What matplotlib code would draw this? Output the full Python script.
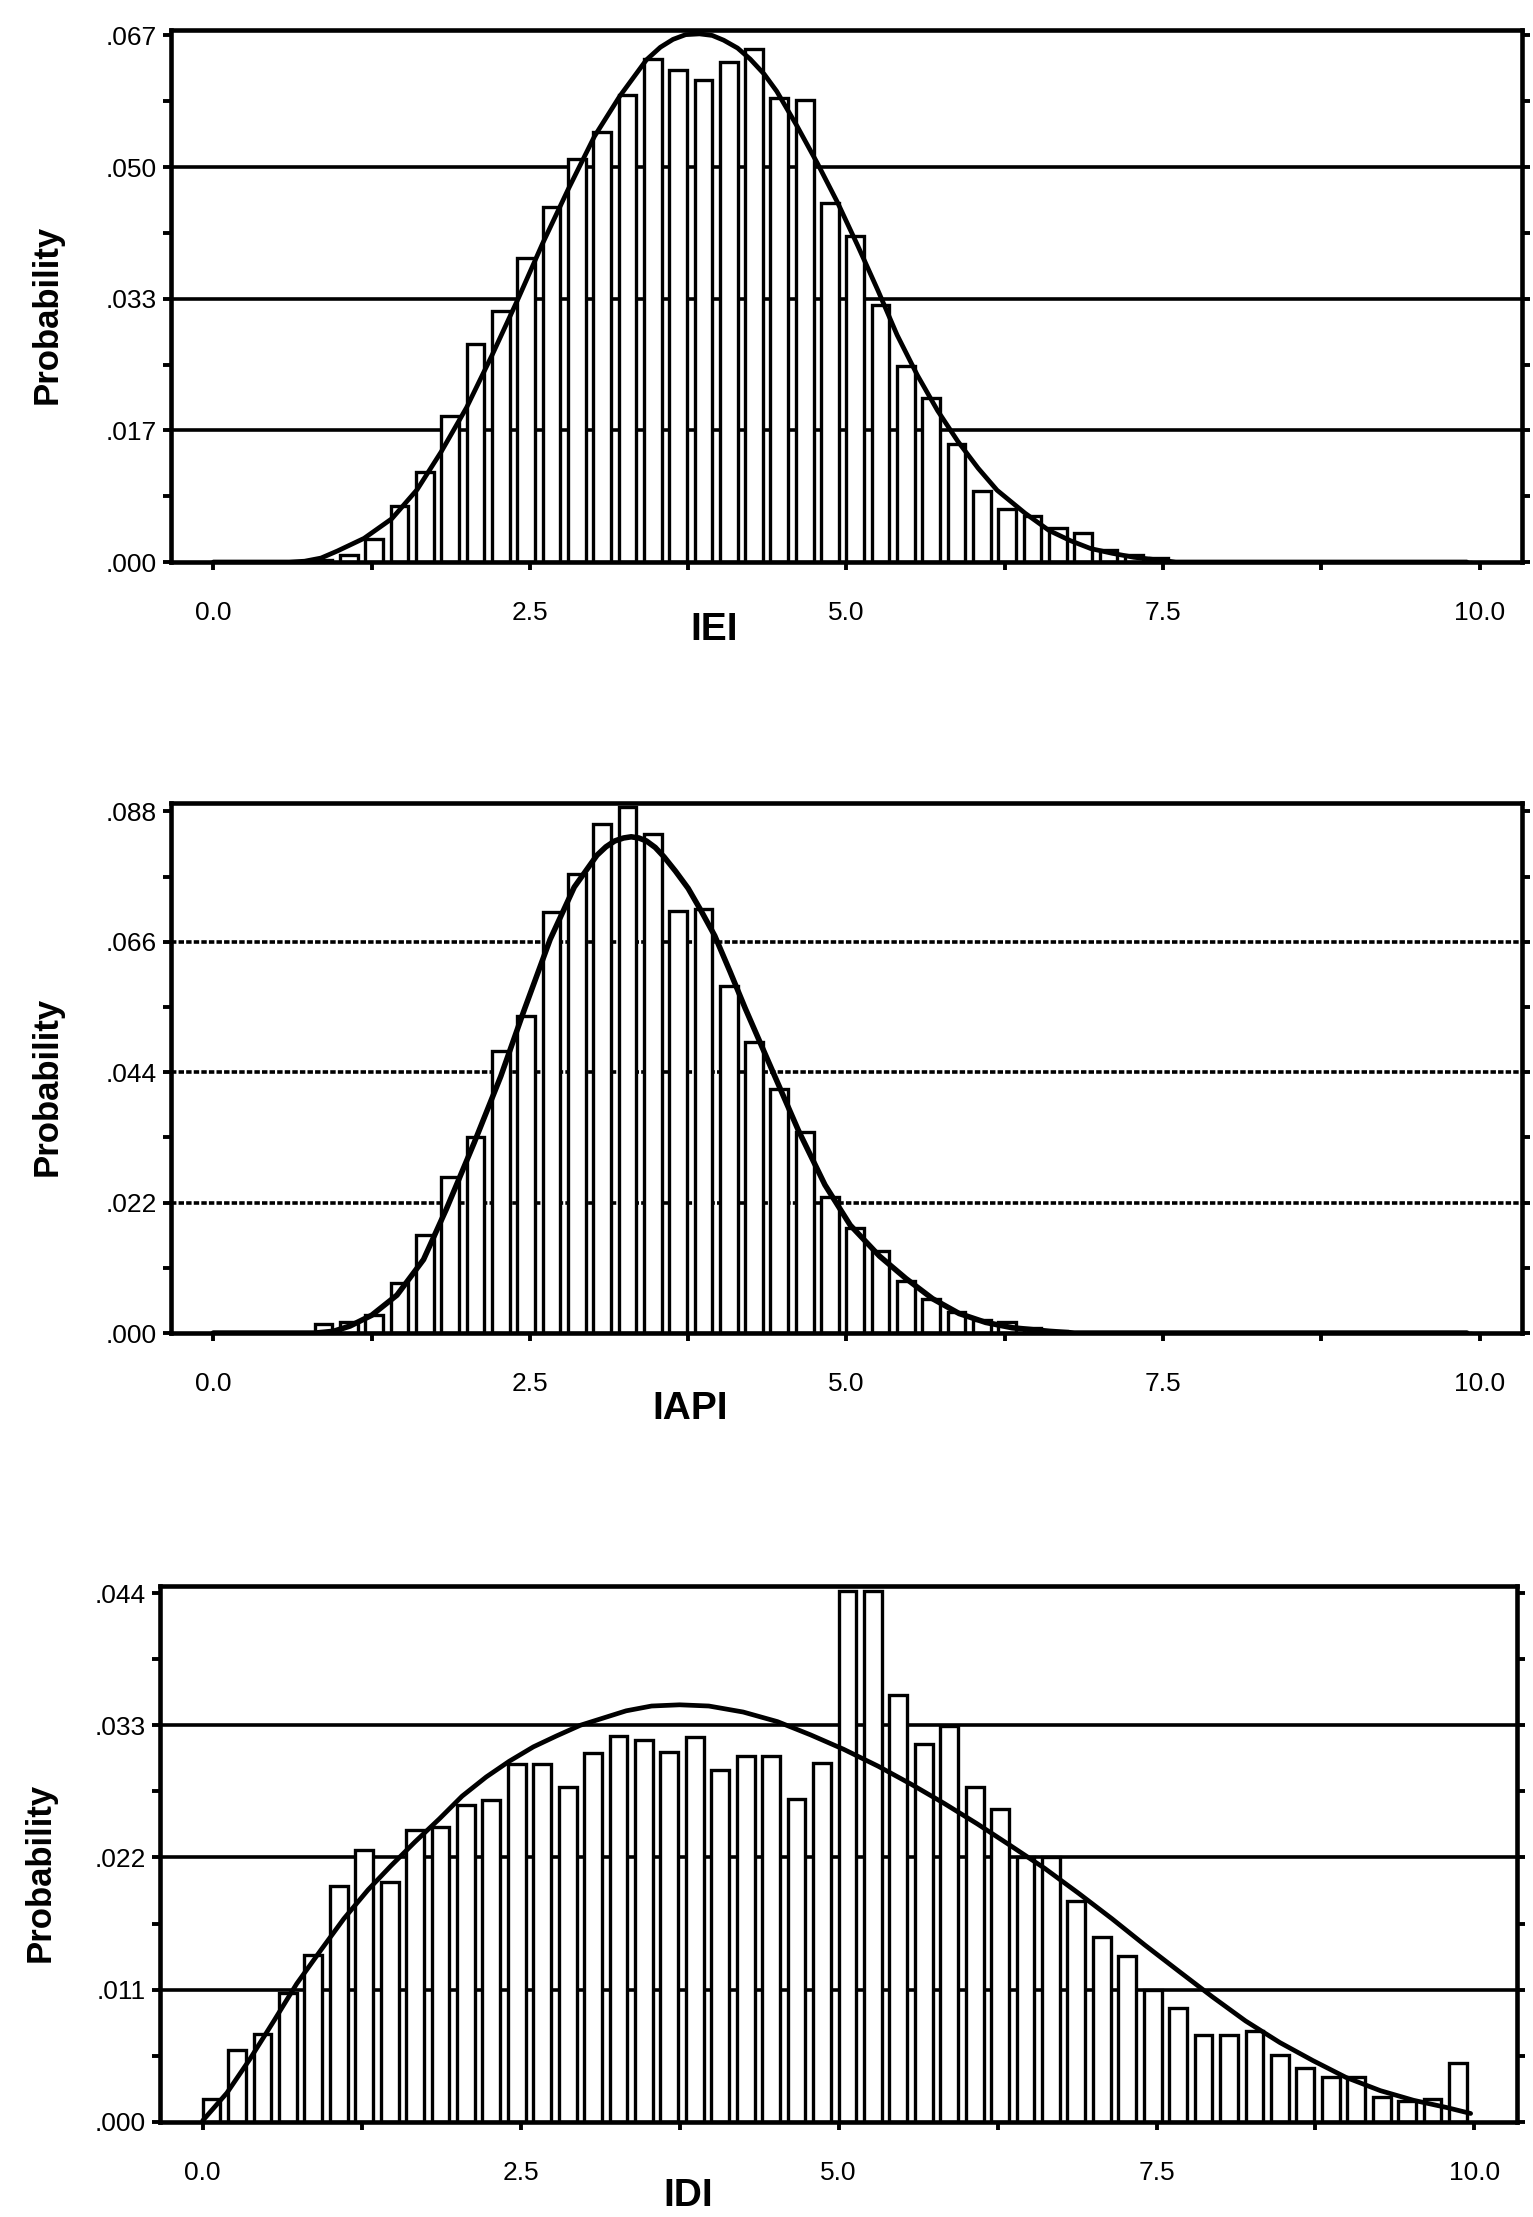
import matplotlib
matplotlib.use('Agg')
import matplotlib.pyplot as plt
import numpy as np

plt.rcParams['font.family'] = ['Liberation Sans', 'DejaVu Sans']

# Histogram bins: 50 bins of width 0.2 starting at 0.0
bin_left = np.round(np.arange(50) * 0.2, 1)

# Bin probabilities
iei_prob = [0, 0, 0, 0, 0.0002, 0.0009, 0.0029, 0.0071, 0.0114, 0.0185,
            0.0276, 0.0319, 0.0386, 0.0451, 0.0511, 0.0546, 0.0593, 0.0638, 0.0624, 0.0612,
            0.0634, 0.0651, 0.0589, 0.0586, 0.0456, 0.0413, 0.0326, 0.0249, 0.0208, 0.0150,
            0.0090, 0.0067, 0.0059, 0.0043, 0.0037, 0.0015, 0.0009, 0.0005, 0, 0,
            0, 0, 0, 0, 0, 0, 0, 0, 0, 0]
iapi_prob = [0, 0, 0, 0, 0.0015, 0.0018, 0.0030, 0.0085, 0.0165, 0.0264,
             0.0330, 0.0475, 0.0535, 0.0710, 0.0774, 0.0858, 0.0887, 0.0841, 0.0712, 0.0715,
             0.0585, 0.0491, 0.0412, 0.0339, 0.0230, 0.0177, 0.0139, 0.0087, 0.0058, 0.0035,
             0.0022, 0.0018, 0.0009, 0.0003, 0, 0, 0, 0, 0, 0,
             0, 0, 0, 0, 0, 0, 0, 0, 0, 0]
idi_prob = [0.0019, 0.0060, 0.0073, 0.0107, 0.0139, 0.0196, 0.0226, 0.0200, 0.0243, 0.0245,
            0.0264, 0.0268, 0.0298, 0.0298, 0.0279, 0.0307, 0.0321, 0.0318, 0.0308, 0.0320,
            0.0293, 0.0304, 0.0304, 0.0269, 0.0299, 0.0442, 0.0442, 0.0355, 0.0314, 0.0329,
            0.0279, 0.0260, 0.0220, 0.0220, 0.0184, 0.0154, 0.0138, 0.0110, 0.0095, 0.0072,
            0.0072, 0.0076, 0.0056, 0.0045, 0.0037, 0.0037, 0.0021, 0.0017, 0.0019, 0.0049]

# Fitted curves, points
iei_curve_x = [0.0, 0.6, 0.72, 0.85, 0.98, 1.19, 1.41, 1.61, 1.80, 2.00, 2.20,
               2.41, 2.60, 2.80, 3.01, 3.21, 3.42, 3.53, 3.63, 3.73, 3.84, 3.94,
               4.03, 4.14, 4.24, 4.35, 4.45, 4.61, 4.77, 4.93, 5.09, 5.25, 5.40,
               5.56, 5.72, 5.88, 6.04, 6.19, 6.41, 6.60, 6.77, 6.93, 7.10, 7.27,
               7.44, 7.60, 9.9]
iei_curve_y = [0, 0, 0.0001, 0.0005, 0.0014, 0.0030, 0.0055, 0.0092, 0.0140, 0.0196, 0.0262,
               0.0335, 0.0404, 0.0472, 0.0540, 0.0591, 0.0637, 0.0653, 0.0663, 0.0669, 0.0670, 0.0668,
               0.0662, 0.0652, 0.0638, 0.0619, 0.0597, 0.0553, 0.0506, 0.0456, 0.0401, 0.0344, 0.0288,
               0.0237, 0.0192, 0.0153, 0.0119, 0.0091, 0.0062, 0.0040, 0.0027, 0.0017, 0.0011, 0.0006,
               0.0003, 0, 0]

iapi_curve_x = [0.0, 0.8, 0.95, 1.08, 1.25, 1.45, 1.66, 1.84, 2.06, 2.27,
                2.45, 2.66, 2.85, 3.03, 3.10, 3.17, 3.24, 3.30, 3.36, 3.42,
                3.49, 3.56, 3.65, 3.75, 3.85, 3.96, 4.08, 4.20, 4.41, 4.62,
                4.83, 5.03, 5.26, 5.47, 5.68, 5.89, 6.10, 6.31, 6.60, 6.80, 9.9]
iapi_curve_y = [0, 0, 0.0003, 0.0012, 0.0030, 0.0064, 0.0124, 0.0209, 0.0321, 0.0433,
                0.0542, 0.0664, 0.0752, 0.0806, 0.0820, 0.0830, 0.0835, 0.0837, 0.0835, 0.0830,
                0.0819, 0.0803, 0.0779, 0.0750, 0.0713, 0.0670, 0.0610, 0.0548, 0.0445, 0.0342,
                0.0250, 0.0182, 0.0130, 0.0092, 0.0058, 0.0033, 0.0018, 0.0009, 0.0003, 0, 0]

idi_curve_x = [0.0, 0.19, 0.37, 0.56, 0.74, 0.93, 1.11, 1.30, 1.48, 1.67,
               1.86, 2.04, 2.23, 2.41, 2.60, 2.78, 2.97, 3.15, 3.33, 3.53,
               3.75, 3.98, 4.25, 4.52, 4.78, 5.04, 5.31, 5.57, 5.83, 6.09,
               6.35, 6.62, 6.89, 7.15, 7.41, 7.68, 7.94, 8.20, 8.47, 8.73,
               8.99, 9.26, 9.52, 9.78, 9.97]
idi_curve_y = [0.0001, 0.0024, 0.0052, 0.0084, 0.0115, 0.0143, 0.0169, 0.0193, 0.0213, 0.0233,
               0.0252, 0.0271, 0.0287, 0.0300, 0.0312, 0.0321, 0.0330, 0.0336, 0.0342, 0.0346,
               0.0347, 0.0346, 0.0341, 0.0333, 0.0322, 0.0310, 0.0296, 0.0281, 0.0265, 0.0248,
               0.0230, 0.0211, 0.0190, 0.0169, 0.0147, 0.0125, 0.0104, 0.0084, 0.0066, 0.0051,
               0.0037, 0.0026, 0.0018, 0.0012, 0.0007]

# Axis ticks
x_ticks = [0.0, 2.5, 5.0, 7.5, 10.0]
x_labels = ['0.0', '2.5', '5.0', '7.5', '10.0']
x_minor = [1.25, 3.75, 6.25, 8.75]

iei_yticks = [0.0, 0.0167, 0.0334, 0.0501, 0.0668]
iei_ylabels = ['.000', '.017', '.033', '.050', '.067']
iapi_yticks = [0.0, 0.022, 0.044, 0.066, 0.088]
iapi_ylabels = ['.000', '.022', '.044', '.066', '.088']
idi_yticks = [0.0, 0.011, 0.022, 0.033, 0.044]
idi_ylabels = ['.000', '.011', '.022', '.033', '.044']


def draw_panel(ax, probs, cx, cy, yticks, ylabels, ytop, grid_ls, curve_lw):
    for y in yticks[1:-1]:
        ax.axhline(y, color='black', lw=2.6, ls=grid_ls, zorder=1)
    ax.bar(bin_left, probs, width=0.14, align='edge', facecolor='white',
           edgecolor='black', linewidth=2.4, zorder=2)
    ax.plot(cx, cy, color='black', lw=curve_lw, zorder=3,
            solid_joinstyle='round', solid_capstyle='round')

    ax.set_xlim(-0.335, 10.335)
    ax.set_ylim(0, ytop)

    ax.set_xticks(x_ticks)
    ax.set_xticklabels(x_labels)
    ax.set_xticks(x_minor, minor=True)
    ax.set_yticks(yticks)
    ax.set_yticklabels(ylabels)
    mids = [(a + b) / 2 for a, b in zip(yticks[:-1], yticks[1:])]
    ax.set_yticks(mids, minor=True)

    ax.tick_params(axis='both', which='both', direction='out', length=6,
                   width=2.8, labelsize=19, colors='black')
    ax.tick_params(axis='y', which='both', right=True, pad=4)
    ax.tick_params(axis='x', which='both', pad=22)
    for sp in ax.spines.values():
        sp.set_linewidth(3.3)
        sp.set_zorder(4)


fig = plt.figure(figsize=(15.33, 22.17), dpi=100)
W, H = 1533, 2217

ax1 = fig.add_axes([0.1115, 0.7465, 0.8813, 0.240])
draw_panel(ax1, iei_prob, iei_curve_x, iei_curve_y, iei_yticks, iei_ylabels,
           0.0675, '-', 3.4)

ax2 = fig.add_axes([0.1115, 0.3987, 0.8813, 0.2391])
draw_panel(ax2, iapi_prob, iapi_curve_x, iapi_curve_y, iapi_yticks, iapi_ylabels,
           0.0894, (0, (1.5, 0.6)), 4.0)

ax3 = fig.add_axes([0.1044, 0.0429, 0.8852, 0.2418])
draw_panel(ax3, idi_prob, idi_curve_x, idi_curve_y, idi_yticks, idi_ylabels,
           0.0446, '-', 3.4)

# Axis titles placed where they sit in the original
for px, py in [(47, 314), (47, 1086), (40, 1872)]:
    fig.text(px / W, 1 - py / H, 'Probability', rotation=90, ha='center',
             va='center', fontsize=25, fontweight='bold')

fig.text(714 / W, 1 - 630 / H, 'IEI', ha='center', va='center',
         fontsize=28, fontweight='bold')
fig.text(690 / W, 1 - 1409 / H, 'IAPI', ha='center', va='center',
         fontsize=28, fontweight='bold')
fig.text(688 / W, 1 - 2196 / H, 'IDI', ha='center', va='center',
         fontsize=28, fontweight='bold')

fig.savefig('out.png', dpi=100, facecolor='white')
